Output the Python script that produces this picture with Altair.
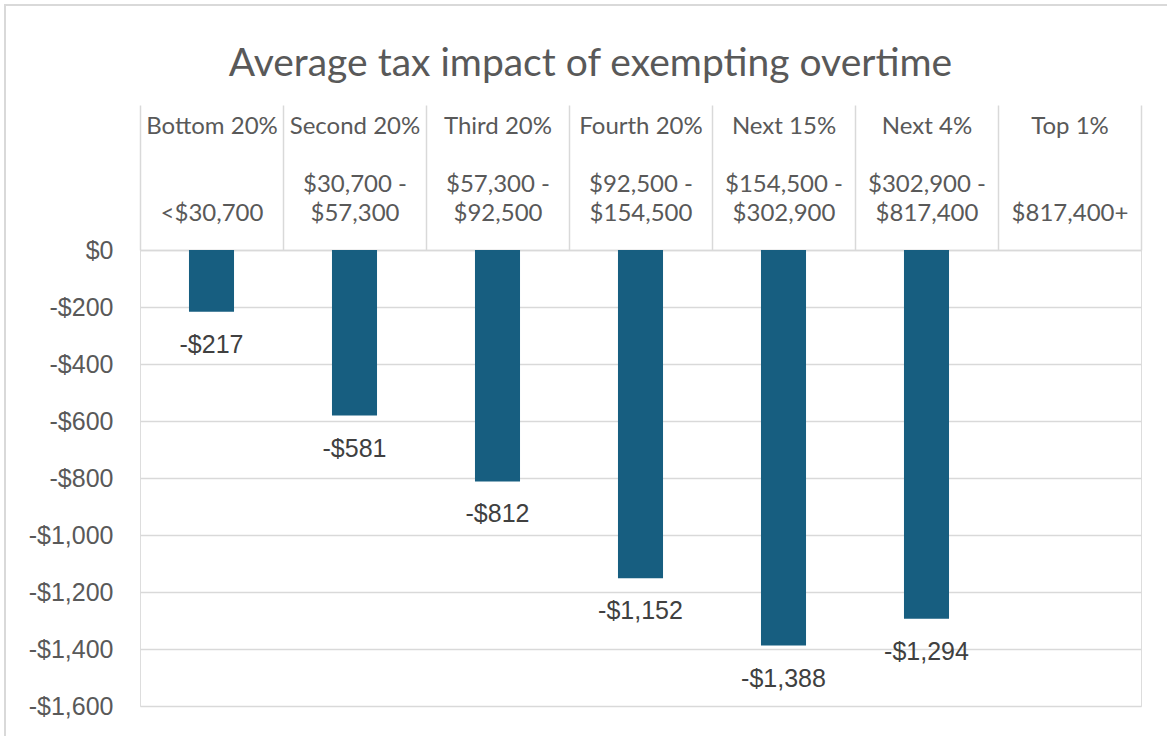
import altair as alt
import pandas as pd

BLANK = "\u2800"  # blank glyph used as a spacer line in the axis labels

# Income groups, their income ranges and the average tax change for each
groups = ["Bottom 20%", "Second 20%", "Third 20%", "Fourth 20%", "Next 15%", "Next 4%", "Top 1%"]
range_first = [BLANK, "$30,700 -", "$57,300 -", "$92,500 -", "$154,500 -", "$302,900 -", BLANK]
range_second = ["<$30,700", "$57,300", "$92,500", "$154,500", "$302,900", "$817,400", "$817,400+"]
impact = [-217, -581, -812, -1152, -1388, -1294, None]

y_ticks = [0, -200, -400, -600, -800, -1000, -1200, -1400, -1600]

# Axis label: group name, a spacer line, then the income range on two lines
keys = [f"{g}|{BLANK}|{a}|{b}" for g, a, b in zip(groups, range_first, range_second)]
df = pd.DataFrame({"group": keys, "impact": impact})

BAR = "#175E80"
GRID = "#D9D9D9"
AXIS_TEXT = "#595959"
VALUE_TEXT = "#404040"

money = "(datum.value < 0 ? '-' : '') + '$' + format(abs(datum.value), ',')"

x_enc = alt.X(
    "group:N",
    sort=keys,
    scale=alt.Scale(domain=keys, paddingInner=0, paddingOuter=0),
    axis=alt.Axis(
        orient="top",
        title=None,
        labelAngle=0,
        labelExpr="split(datum.label, '|')",
        labelFont="Lato",
        labelFontSize=24,
        labelColor=AXIS_TEXT,
        labelLineHeight=29,
        labelPadding=-9,
        labelBaseline="top",
        tickBand="extent",
        tickSize=145,
        tickColor=GRID,
        tickWidth=1.5,
        domainColor=GRID,
        domainWidth=1.5,
        grid=False,
        labelOverlap=False,
    ),
)

y_enc = alt.Y(
    "impact:Q",
    scale=alt.Scale(domain=[-1600, 0], nice=False),
    axis=alt.Axis(
        values=y_ticks,
        title=None,
        labelExpr=money,
        labelFont="Liberation Sans",
        labelFontSize=25,
        labelColor=AXIS_TEXT,
        labelPadding=27,
        ticks=False,
        domain=False,
        grid=True,
        gridColor=GRID,
        gridWidth=1.5,
    ),
)

base = alt.Chart(df).transform_filter("isValid(datum.impact)")

bars = base.mark_bar(color=BAR, width=alt.RelativeBandSize(0.315)).encode(
    x=x_enc, y=y_enc
)

labels = base.transform_calculate(
    label="(datum.impact < 0 ? '-' : '') + '$' + format(abs(datum.impact), ',')"
).mark_text(
    font="Liberation Sans", fontSize=25, color=VALUE_TEXT, baseline="middle", dy=33
).encode(
    x=alt.X("group:N", sort=keys),
    y="impact:Q",
    text="label:N",
)

# Light frame along the top and left edge of the figure
frame = alt.Chart(alt.Data(values=[{}])).mark_rect(
    fill=None, stroke=GRID, strokeWidth=2
).encode(
    x=alt.value(-135), x2=alt.value(1100), y=alt.value(-245), y2=alt.value(600)
)

chart = (
    alt.layer(frame, bars, labels)
    .properties(
        width=1001,
        height=456,
        padding={"left": 140, "top": 250, "right": 26, "bottom": 30},
        autosize=alt.AutoSizeParams(type="none"),
        title=alt.Title(
            "Average tax impact of exempting overtime",
            font="Lato",
            fontSize=39,
            fontWeight="normal",
            color=AXIS_TEXT,
            anchor="middle",
            dx=-50,
            offset=0,
            dy=111,
            baseline="alphabetic",
        ),
    )
    .configure_view(stroke=None)
    .configure(background="white")
)

chart.save("out.html", embed_options={"renderer": "svg", "actions": False})
